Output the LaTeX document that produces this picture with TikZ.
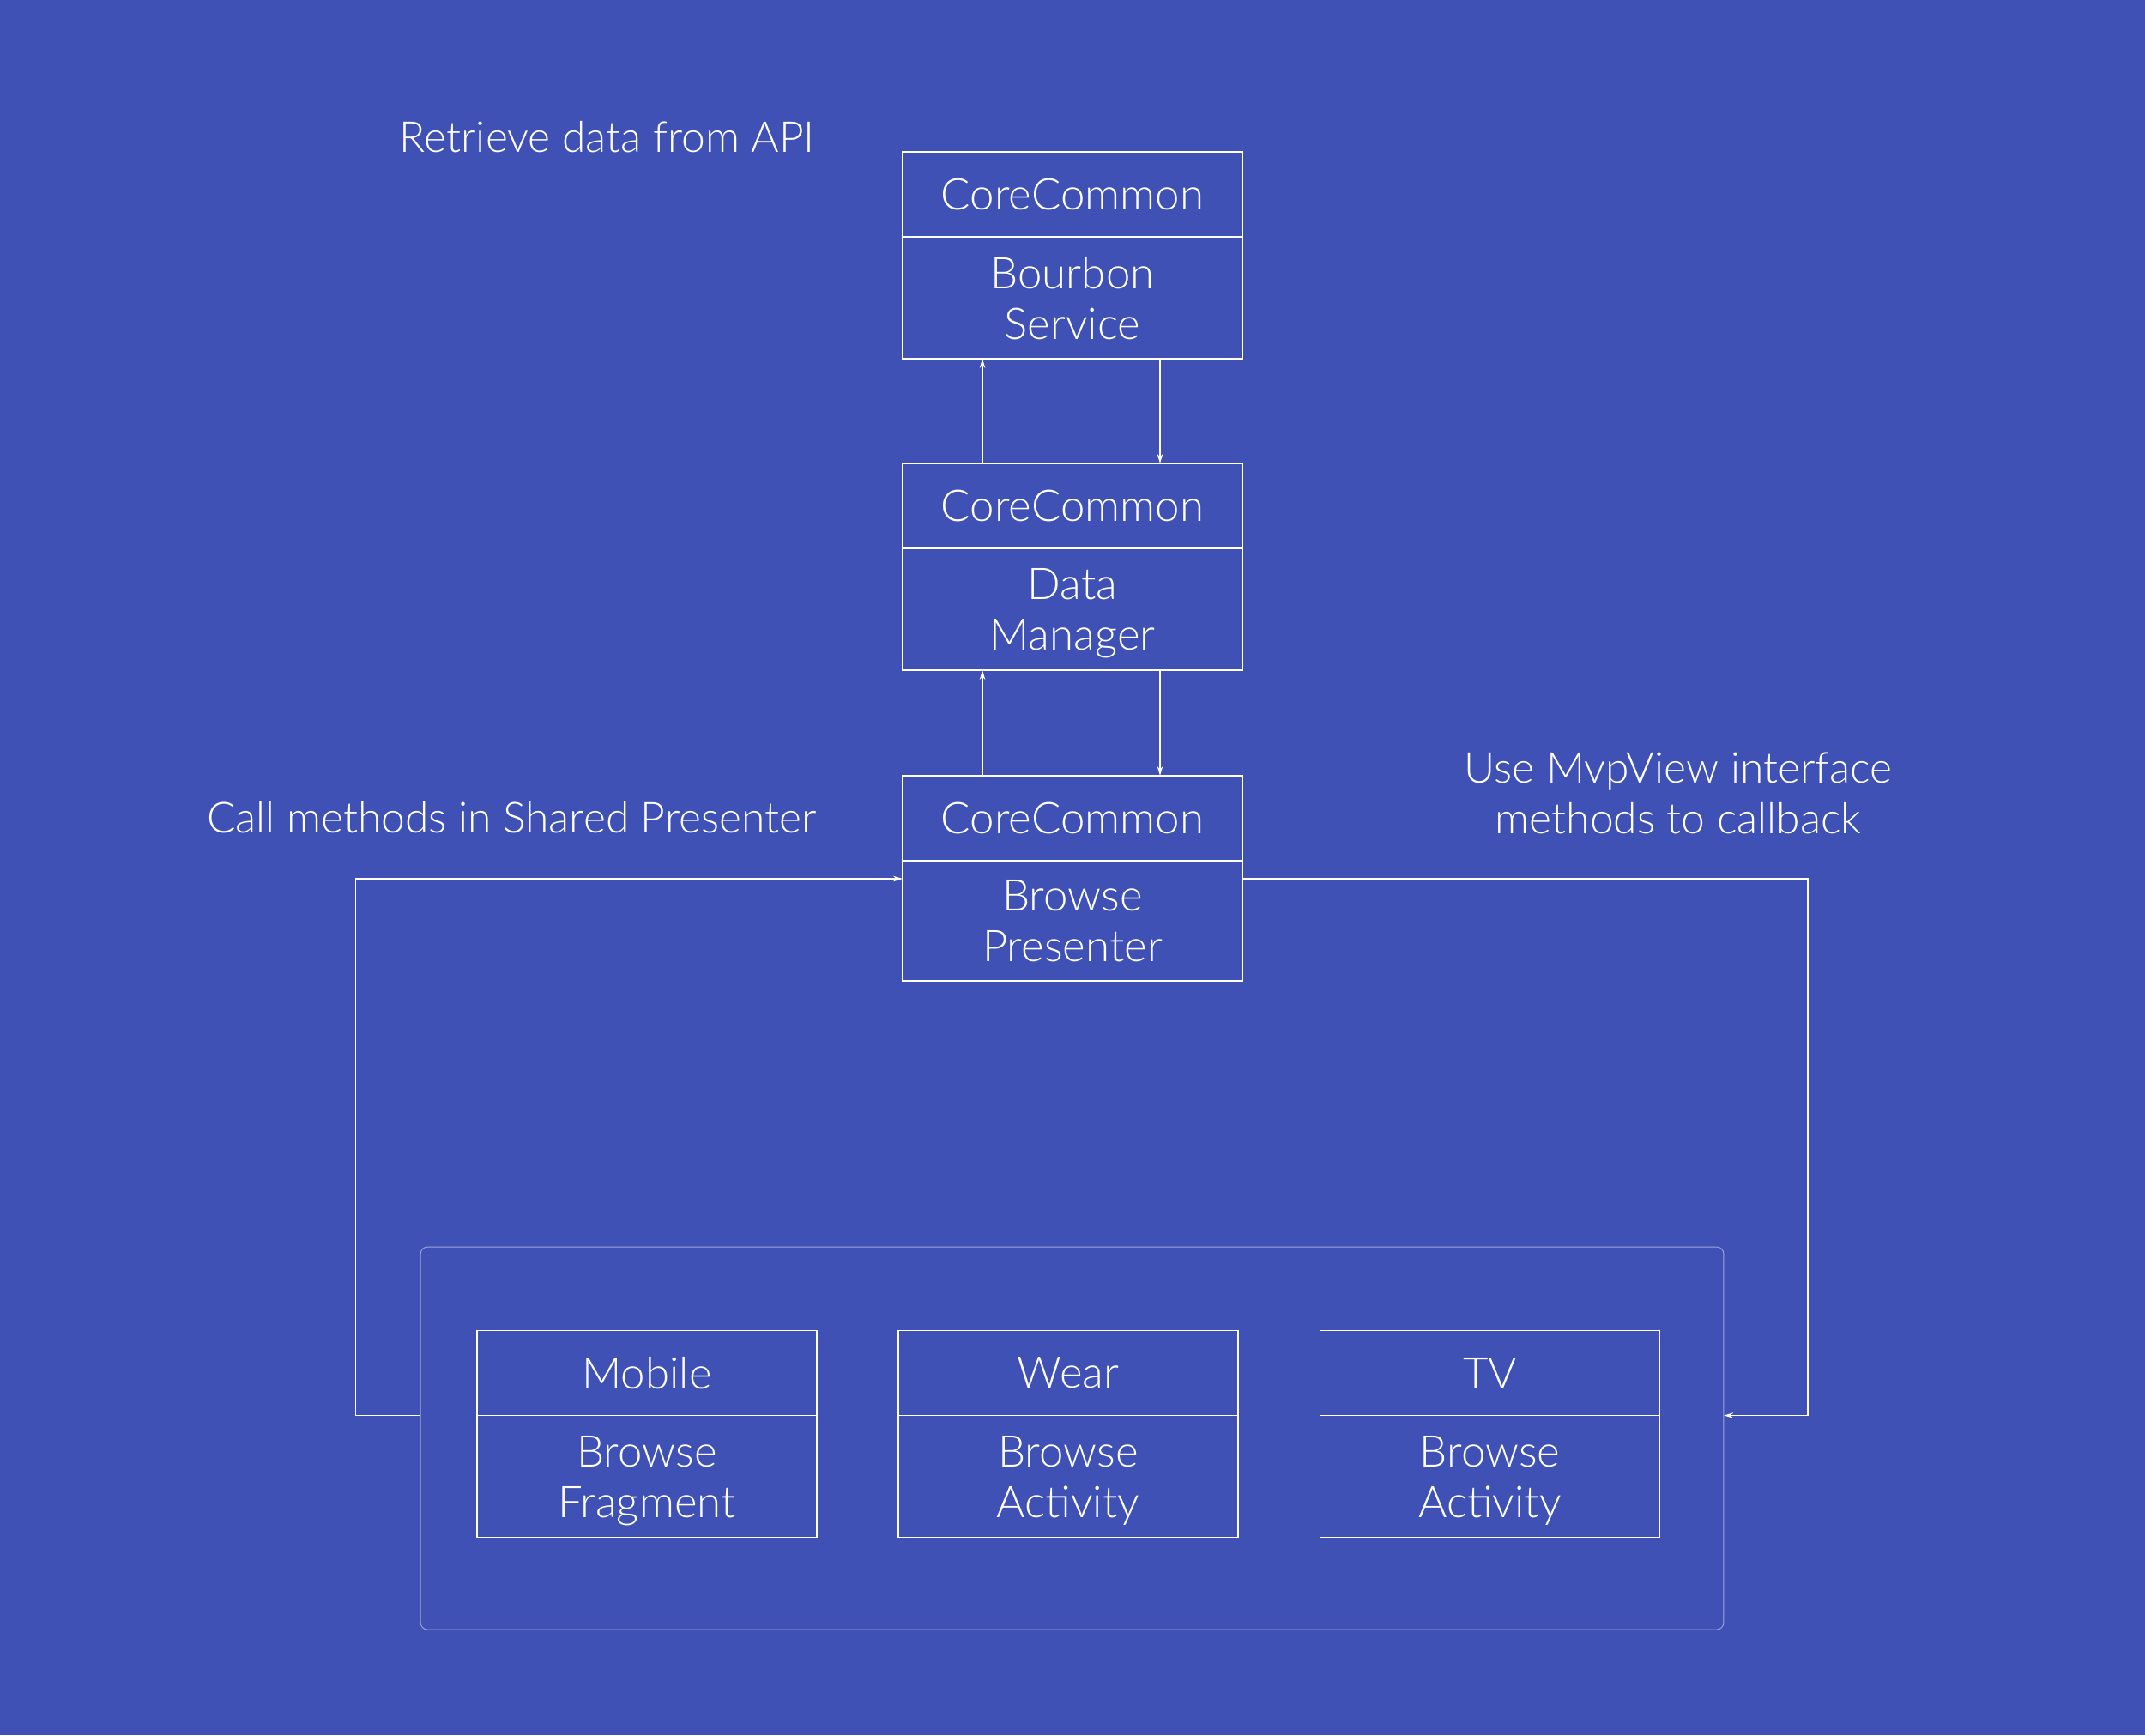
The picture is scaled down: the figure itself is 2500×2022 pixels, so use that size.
\documentclass[tikz,border=0pt]{standalone}
\usepackage{fontspec}
\setmainfont{Lato Light}
\usetikzlibrary{positioning,arrows.meta}
\definecolor{indigo}{HTML}{3F51B5}
\tikzset{
  head/.style={draw=white,line width=1pt,minimum width=7.92cm,minimum height=1.98cm,
    outer sep=0pt,inner sep=0pt,text=white,align=center,font=\fontsize{29}{33.6}\selectfont},
  body/.style={head,minimum height=2.84cm,text depth=0pt},
  note/.style={text=white,align=center,inner sep=0pt,font=\fontsize{28.3}{33.6}\selectfont},
  arr/.style={draw=white,line width=0.8pt,-{Stealth[length=0.22cm,width=0.13cm]}}
}
\begin{document}
\begin{tikzpicture}[x=0.02cm,y=-0.02cm]
\fill[indigo] (0,0) rectangle (2500,2022);
\useasboundingbox (0,0) rectangle (2500,2022);
% shared core
\node[head] (bsTop) at (1250,226.5) {CoreCommon};
\node[body] (bsBot) [below=0pt of bsTop] {Bourbon\\Service};
\node[head] (dmTop) at (1250,589.5) {CoreCommon};
\node[body] (dmBot) [below=0pt of dmTop] {Data\\Manager};
\node[head] (bpTop) at (1250,953.5) {CoreCommon};
\node[body,minimum height=2.8cm] (bpBot) [below=0pt of bpTop] {Browse\\Presenter};
% platform views
\node[draw=white,draw opacity=0.5,line width=0.5pt,rounded corners=0.16cm,
  minimum width=30.38cm,minimum height=8.92cm] (view) at (1249.5,1676) {};
\node[head] (mobileTop) at (754,1600) {Mobile};
\node[body] (mobileBot) [below=0pt of mobileTop] {Browse\\Fragment};
\node[head] (wearTop) at (1245,1600) {Wear};
\node[body] (wearBot) [below=0pt of wearTop] {Browse\\Activity};
\node[head] (tvTop) at (1736.5,1600) {TV};
\node[body] (tvBot) [below=0pt of tvTop] {Browse\\Activity};
% labels
\node[note,anchor=east] (apiNote) at (950,160) {Retrieve data from API};
\node[note,anchor=east] (callNote) at (952,953) {Call methods in Shared Presenter};
\node[note] (mvpNote) at (1956,924) {Use MvpView interface\\methods to callback};
% connectors
\draw[arr] ([xshift=-2.1cm]dmTop.north) -- ([xshift=-2.1cm]bsBot.south);
\draw[arr] ([xshift=2.04cm]bsBot.south) -- ([xshift=2.04cm]dmTop.north);
\draw[arr] ([xshift=-2.1cm]bpTop.north) -- ([xshift=-2.1cm]dmBot.south);
\draw[arr] ([xshift=2.04cm]dmBot.south) -- ([xshift=2.04cm]bpTop.north);
\coordinate (callIn) at ([yshift=-0.42cm]bpBot.north west);
\draw[arr] (mobileTop.south -| view.west) -- ++(-75,0) |- (callIn);
\draw[arr] (callIn -| bpBot.east) -- ++(659,0) |- (tvTop.south -| view.east);
\end{tikzpicture}
\end{document}
